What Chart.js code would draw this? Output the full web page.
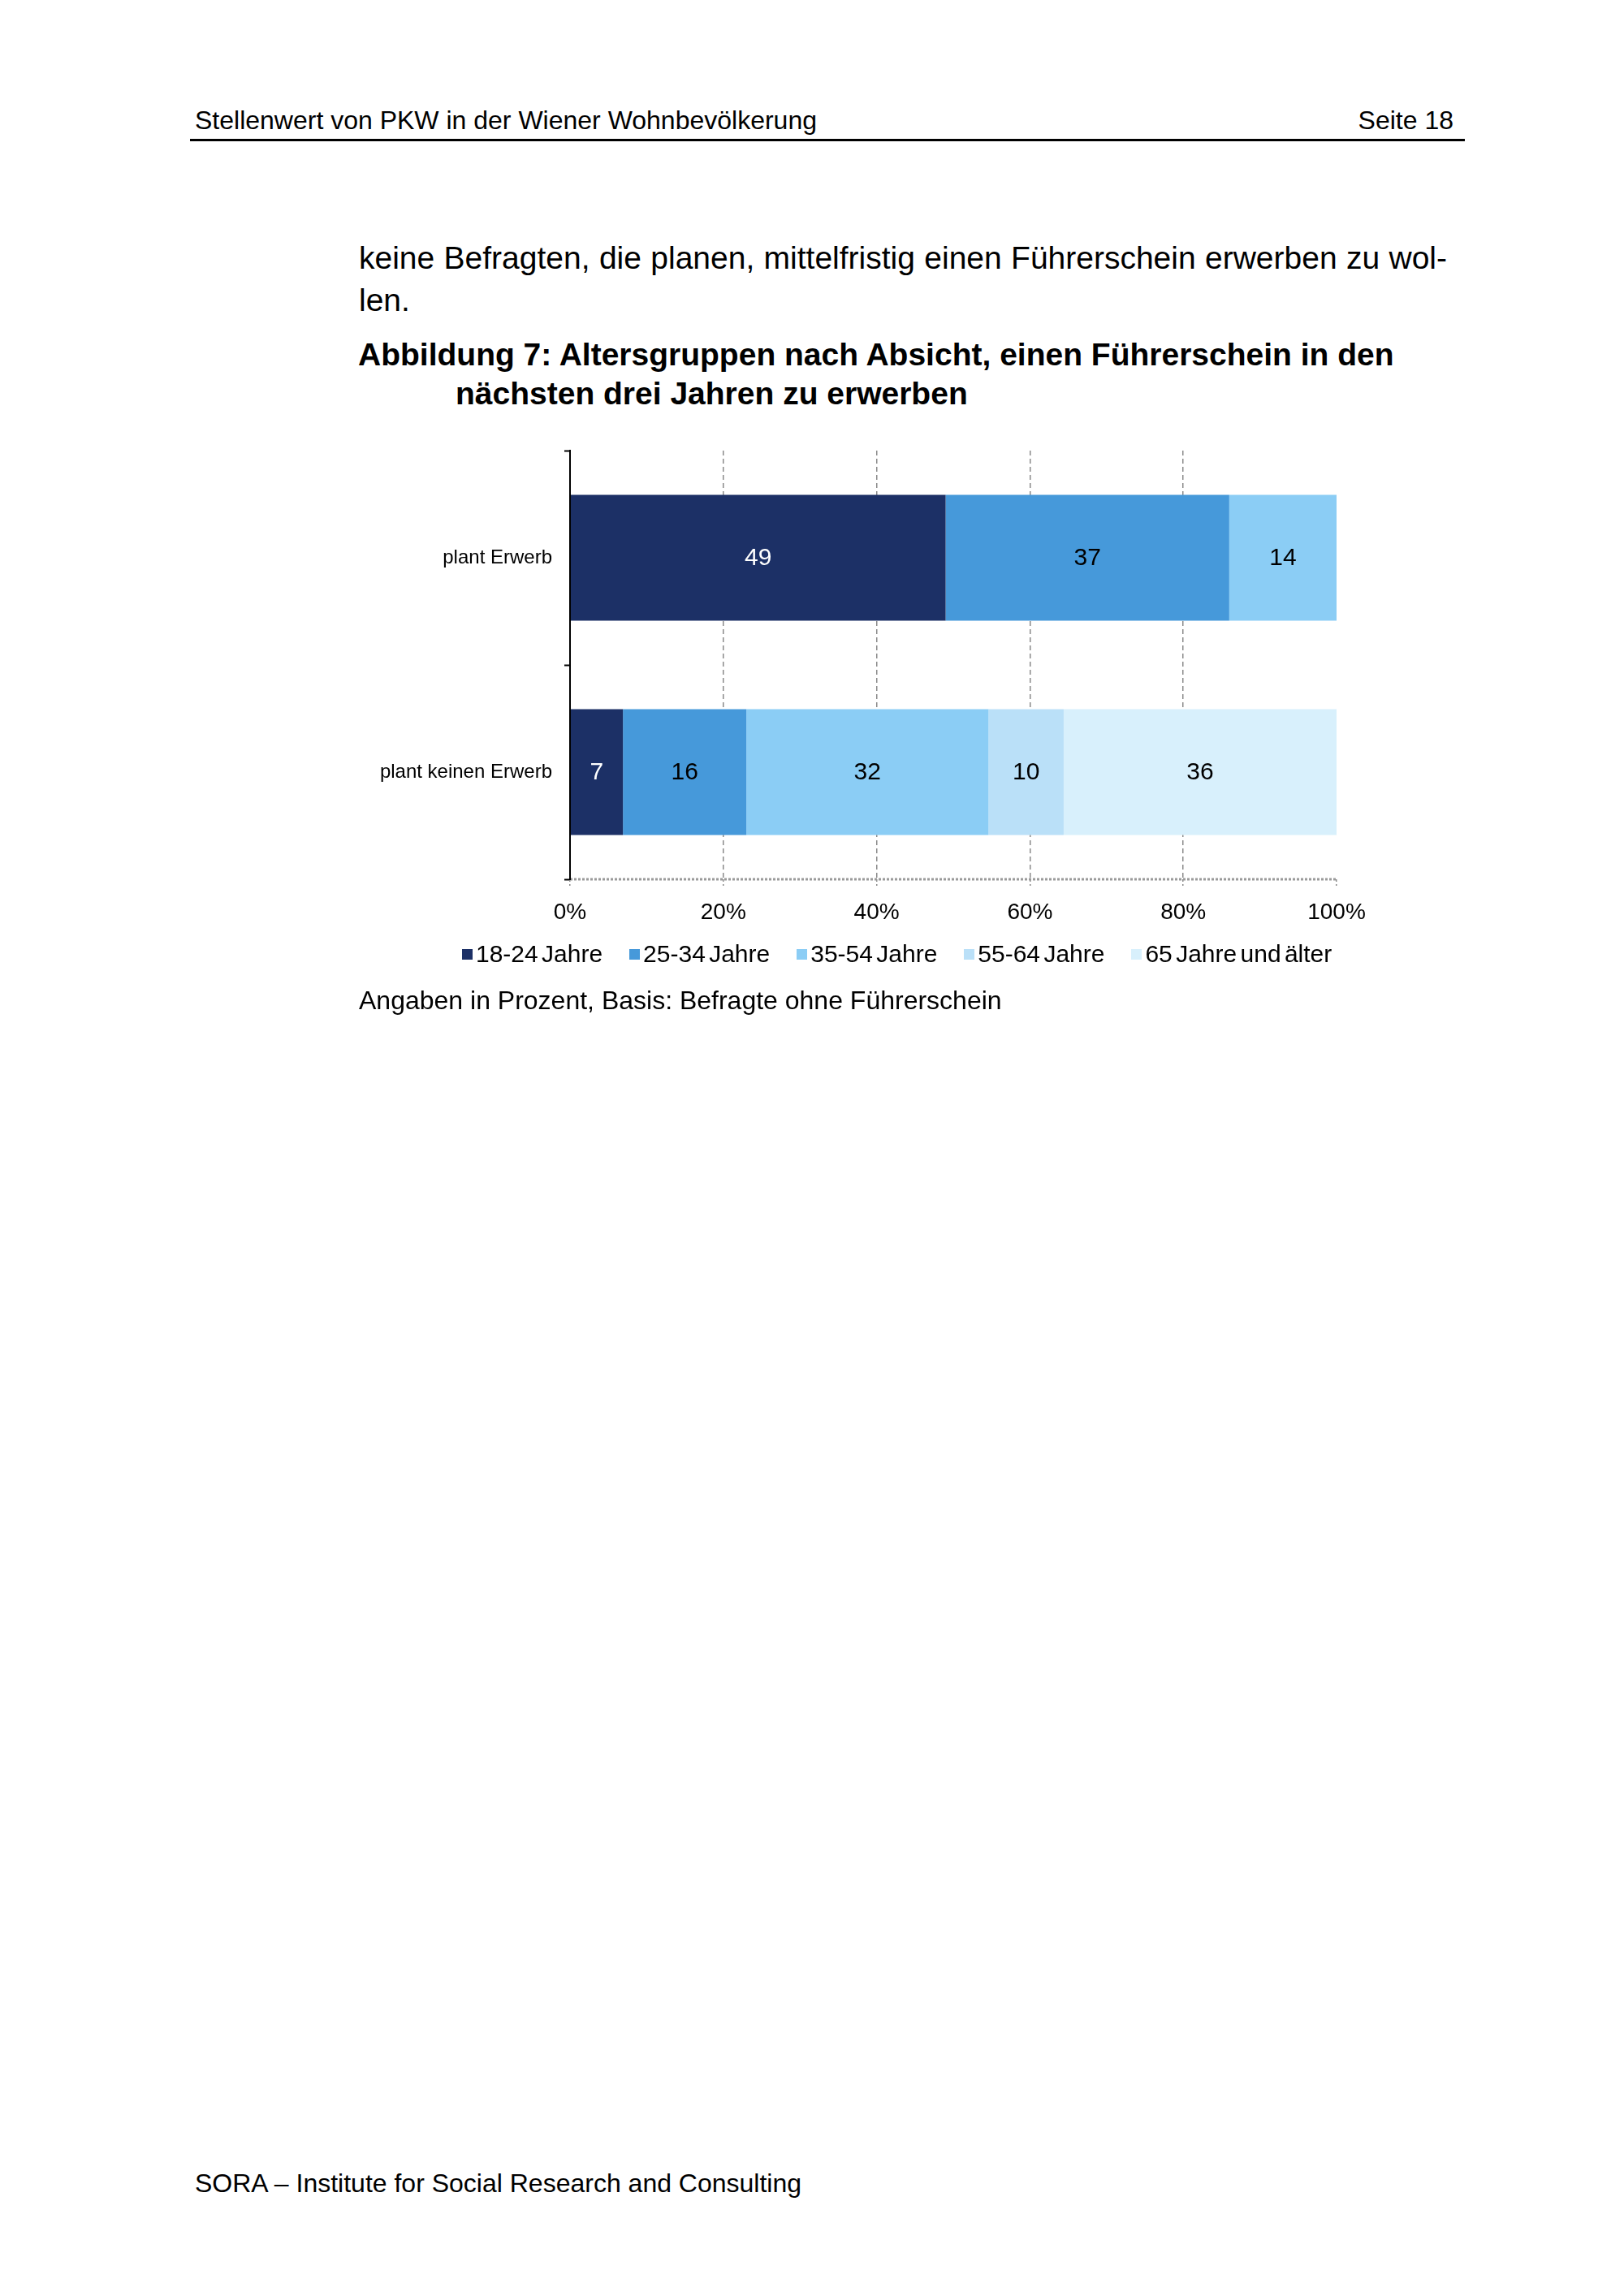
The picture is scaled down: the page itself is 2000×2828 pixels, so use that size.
<!DOCTYPE html>
<html>
<head>
<meta charset="utf-8">
<script src="https://cdn.jsdelivr.net/npm/chart.js@4"></script>
<style>
  html, body { margin:0; padding:0; background:#fff; }
  body { width:2000px; height:2828px; position:relative; font-family:"Liberation Sans", Arial, sans-serif; color:#000; }
  .t { position:absolute; white-space:nowrap; line-height:1; }
  #hdrline { position:absolute; left:234px; top:171px; width:1570px; height:3px; background:#000; }
  #chartWrap { position:absolute; left:0; top:0; width:2000px; height:1300px; }
  #legend { position:absolute; left:569px; top:1160px; display:flex; gap:33px; font-size:30px; line-height:1; word-spacing:-4px; }
  #legend .it { display:flex; align-items:center; }
  #legend .bx { width:13px; height:13px; margin-right:4px; }
</style>
</head>
<body>
<div class="t" style="left:240px; top:132px; font-size:32px;">Stellenwert von PKW in der Wiener Wohnbevölkerung</div>
<div class="t" style="right:210px; top:132px; font-size:32px;">Seite 18</div>
<div id="hdrline"></div>
<div class="t" style="left:442px; top:298px; font-size:39px; width:1340px; text-align:justify; text-align-last:justify;">keine Befragten, die planen, mittelfristig einen Führerschein erwerben zu wol-</div>
<div class="t" style="left:442px; top:350px; font-size:39px;">len.</div>
<div class="t" style="left:441px; top:417px; font-size:39px; font-weight:bold;">Abbildung 7: Altersgruppen nach Absicht, einen Führerschein in den</div>
<div class="t" style="left:561px; top:465px; font-size:39px; font-weight:bold;">nächsten drei Jahren zu erwerben</div>

<div id="chartWrap"><canvas id="c" width="2000" height="1300"></canvas></div>
<div id="legend"></div>

<div class="t" style="left:442px; top:1216px; font-size:32px;">Angaben in Prozent, Basis: Befragte ohne Führerschein</div>
<div class="t" style="left:240px; top:2673px; font-size:32px;">SORA – Institute for Social Research and Consulting</div>

<script>
// ---- data ----
const categories = ['plant Erwerb', 'plant keinen Erwerb'];
const seriesNames = ['18-24 Jahre', '25-34 Jahre', '35-54 Jahre', '55-64 Jahre', '65 Jahre und älter'];
const age18to24 = [49, 6.9];
const age25to34 = [37, 16.1];
const age35to54 = [14, 31.6];
const age55to64 = [0, 9.8];
const age65plus = [0, 35.6];
const xTickValues = [0, 20, 40, 60, 80, 100];
const seriesColors = ['#1C3066', '#4699DA', '#8BCDF5', '#BAE0F8', '#D8F0FC'];
const labelColors = ['#FFFFFF', '#000000', '#000000', '#000000', '#000000'];

const seriesValues = [age18to24, age25to34, age35to54, age55to64, age65plus];
const FONT = '"Liberation Sans", Arial, sans-serif';

// legend (HTML, built from the series arrays)
const lg = document.getElementById('legend');
seriesNames.forEach((n, i) => {
  const it = document.createElement('div'); it.className = 'it';
  const b = document.createElement('div'); b.className = 'bx'; b.style.background = seriesColors[i];
  const s = document.createElement('span'); s.textContent = n;
  it.appendChild(b); it.appendChild(s); lg.appendChild(it);
});

const valueLabels = {
  id: 'valueLabels',
  afterDatasetsDraw(chart) {
    const ctx = chart.ctx;
    ctx.save();
    ctx.font = '30px ' + FONT;
    ctx.textAlign = 'center';
    ctx.textBaseline = 'middle';
    chart.data.datasets.forEach((ds, di) => {
      const meta = chart.getDatasetMeta(di);
      meta.data.forEach((el, i) => {
        const v = ds.data[i];
        if (!v) return;
        ctx.fillStyle = labelColors[di];
        ctx.fillText(String(Math.round(v)), (el.x + el.base) / 2, el.y + 1);
      });
    });
    ctx.restore();
  }
};

const bottomDotted = {
  id: 'bottomDotted',
  beforeDatasetsDraw(chart) {
    const {ctx, chartArea} = chart;
    ctx.save();
    ctx.strokeStyle = '#9a9a9a';
    ctx.lineWidth = 3;
    ctx.setLineDash([3, 2]);
    ctx.beginPath();
    ctx.moveTo(chartArea.left, chartArea.bottom);
    ctx.lineTo(chartArea.right, chartArea.bottom);
    ctx.stroke();
    ctx.restore();
  }
};

new Chart(document.getElementById('c'), {
  type: 'bar',
  data: {
    labels: categories,
    datasets: seriesNames.map((n, i) => ({
      label: n,
      data: seriesValues[i],
      backgroundColor: seriesColors[i],
      borderWidth: 0,
      barPercentage: 0.587,
      categoryPercentage: 1.0
    }))
  },
  options: {
    indexAxis: 'y',
    responsive: false,
    animation: false,
    devicePixelRatio: 1,
    layout: { padding: { left: 402, right: 354, top: 555, bottom: 157 } },
    plugins: { legend: { display: false }, tooltip: { enabled: false } },
    scales: {
      x: {
        stacked: true,
        min: 0, max: 100,
        afterBuildTicks(scale) { scale.ticks = xTickValues.map(v => ({ value: v })); },
        afterFit(scale) { scale.height = 60; },
        ticks: {
          callback: v => v + '%',
          color: '#000',
          font: { family: FONT, size: 28 },
          padding: 16,
          maxRotation: 0
        },
        grid: {
          color: c => (c.tick && (c.tick.value === 0 || c.tick.value === 100)) ? 'rgba(0,0,0,0)' : '#8a8a8a',
          lineWidth: 1.5,
          tickColor: '#8a8a8a',
          tickWidth: 1.5,
          tickLength: 8,
          tickBorderDash: [3, 3]
        },
        border: { display: false, dash: [6, 4] }
      },
      y: {
        stacked: true,
        afterFit(scale) { scale.width = 300; },
        ticks: {
          color: '#000',
          font: { family: FONT, size: 24 },
          padding: 15
        },
        grid: {
          drawOnChartArea: false,
          tickColor: '#000',
          tickWidth: 2,
          tickLength: 7
        },
        border: { display: true, color: '#000', width: 2, z: 1 }
      }
    }
  },
  plugins: [valueLabels, bottomDotted]
});
</script>
</body>
</html>
